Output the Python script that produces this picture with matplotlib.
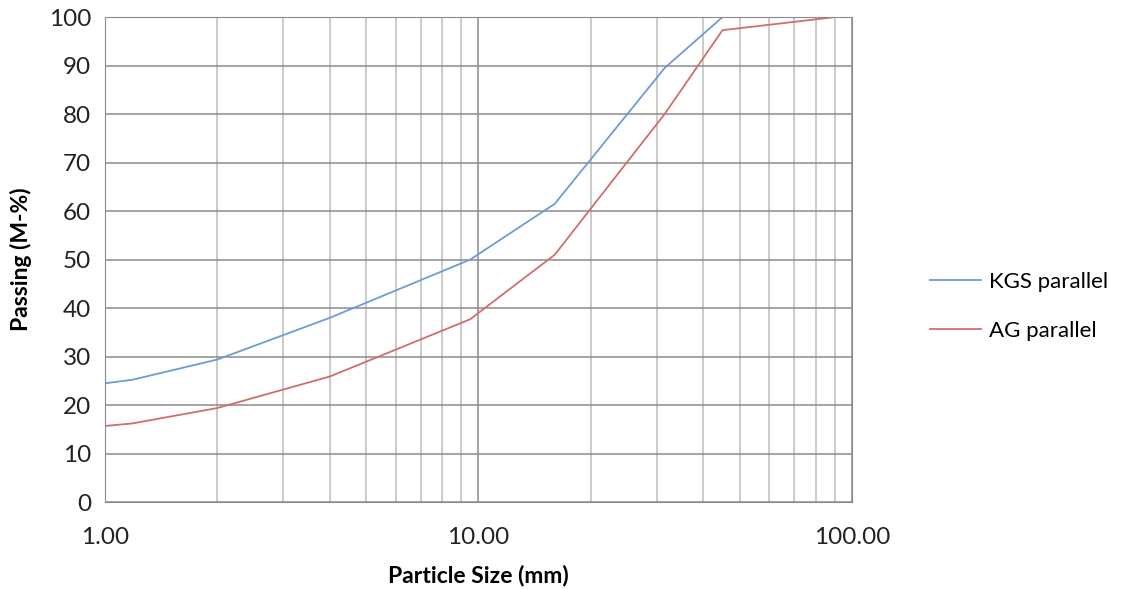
import matplotlib
matplotlib.use('Agg')
from matplotlib import pyplot as plt
from matplotlib.ticker import FixedLocator, FuncFormatter, LogLocator, NullFormatter

sizes = [1.0, 1.18, 2.0, 4.0, 9.5, 16.0, 31.5, 45.0, 90.0]
kgs = [24.5, 25.2, 29.4, 38.0, 50.0, 61.5, 89.5, 100.0, 100.0]
ag = [15.7, 16.2, 19.4, 25.9, 37.7, 51.0, 80.0, 97.3, 100.0]
x_ticks = [1, 10, 100]
y_ticks = list(range(0, 101, 10))

plt.rcParams['font.family'] = ['Lato', 'DejaVu Sans']

fig = plt.figure(figsize=(11.21, 5.9), dpi=100)
ax = fig.add_axes([0.0937, 0.149, 0.6663, 0.822])

ax.plot(sizes, kgs, color='#6f9bd4', lw=1.3, label='KGS parallel')
ax.plot(sizes, ag, color='#d06e6b', lw=1.3, label='AG parallel')

ax.set_xscale('log')
ax.set_xlim(1, 100)
ax.set_ylim(0, 100)
ax.xaxis.set_major_locator(FixedLocator(x_ticks))
ax.xaxis.set_major_formatter(FuncFormatter(lambda v, p: '%.2f' % v))
ax.xaxis.set_minor_locator(LogLocator(base=10, subs=range(2, 10)))
ax.xaxis.set_minor_formatter(NullFormatter())
ax.set_yticks(y_ticks)

ax.grid(which='major', color='#8c8c8c', lw=1.1)
ax.grid(which='minor', axis='x', color='#bdbdbd', lw=1.1)
ax.set_axisbelow(True)
for s in ax.spines.values():
    s.set_color('#8c8c8c')
ax.tick_params(which='both', length=0, labelsize=17.5, colors='#222222')
ax.tick_params(axis='x', pad=18)
ax.tick_params(axis='y', pad=10)

ax.set_xlabel('Particle Size (mm)', fontsize=16.5, fontweight='bold', labelpad=12)
ax.set_ylabel('Passing (M-%)', fontsize=16.5, fontweight='bold', labelpad=12)

fig.legend(loc='center left', bbox_to_anchor=(0.812, 0.481), frameon=False,
           fontsize=16, handlelength=2.3, labelspacing=1.3, handletextpad=0.35)

fig.savefig('out.png', dpi=100)
